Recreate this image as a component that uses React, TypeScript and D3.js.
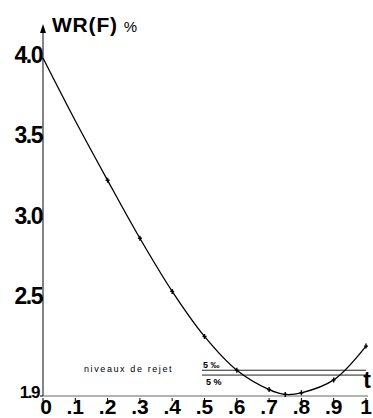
import React, { useEffect, useRef } from 'react';
import * as d3 from 'd3';

// WR(F) % against t
const tValues = [0, 0.1, 0.2, 0.3, 0.4, 0.5, 0.6, 0.7, 0.75, 0.8, 0.9, 1.0];
const wrValues = [4.0, 3.61, 3.24, 2.88, 2.55, 2.27, 2.06, 1.94, 1.91, 1.92, 2.0, 2.21];
const markedT = [0.2, 0.3, 0.4, 0.5, 0.6, 0.7, 0.75, 0.8, 0.9, 1.0];

const yTicks = [4.0, 3.5, 3.0, 2.5, 1.9];
const yTickLabels = ['4.0', '3.5', '3.0', '2.5', '1.9'];
const xTicks = [0, 0.1, 0.2, 0.3, 0.4, 0.5, 0.6, 0.7, 0.8, 0.9, 1];
const xTickLabels = ['0', '.1', '.2', '.3', '.4', '.5', '.6', '.7', '.8', '.9', '1'];

// rejection levels
const rejectLevels = [2.06, 2.03];
const rejectLabels = ['5 ‰', '5 %'];

function App() {
  const ref = useRef<SVGSVGElement | null>(null);

  useEffect(() => {
    if (!ref.current) return;
    const W = 373;
    const H = 418;

    const svg = d3.select(ref.current);
    svg.selectAll('*').remove();
    svg.attr('width', W).attr('height', H);

    const x = d3.scaleLinear().domain([0, 1]).range([43, 366]);
    const y = d3.scaleLinear().domain([1.9, 4.0]).range([396, 58]);

    const font = "'Liberation Sans', Arial, sans-serif";

    // y axis with arrow
    svg.append('line')
      .attr('x1', x(0)).attr('x2', x(0))
      .attr('y1', y(1.9)).attr('y2', 28)
      .attr('stroke', '#333').attr('stroke-width', 1.2);
    svg.append('path')
      .attr('d', `M${x(0) - 3},${33} L${x(0)},${24} L${x(0) + 3},${33} Z`)
      .attr('fill', '#000');

    // x axis
    svg.append('line')
      .attr('x1', x(0)).attr('x2', x(1) + 2)
      .attr('y1', y(1.9)).attr('y2', y(1.9))
      .attr('stroke', '#666').attr('stroke-width', 1);

    // y ticks
    const yg = svg.append('g');
    yTicks.forEach((v, i) => {
      const last = i === yTicks.length - 1;
      yg.append('line')
        .attr('x1', x(0) - 3).attr('x2', x(0))
        .attr('y1', y(v)).attr('y2', y(v))
        .attr('stroke', '#000');
      yg.append('text')
        .attr('x', x(0) - (last ? 4 : 1))
        .attr('y', y(v) + (last ? 2 : 5))
        .attr('text-anchor', 'end')
        .attr('font-family', font)
        .attr('font-weight', 'bold')
        .attr('font-size', last ? 17 : 23)
        .attr('letter-spacing', -1.5)
        .text(yTickLabels[i]);
    });

    // x ticks
    const xg = svg.append('g');
    xTicks.forEach((v, i) => {
      xg.append('line')
        .attr('x1', x(v)).attr('x2', x(v))
        .attr('y1', y(1.9) + 2).attr('y2', y(1.9) + 5)
        .attr('stroke', '#000');
      xg.append('text')
        .attr('x', x(v) + (i === 0 ? 3 : 0))
        .attr('y', 414)
        .attr('text-anchor', 'middle')
        .attr('font-family', font)
        .attr('font-weight', 'bold')
        .attr('font-size', 21)
        .text(xTickLabels[i]);
    });

    // title
    const title = svg.append('text')
      .attr('x', 52).attr('y', 32)
      .attr('font-family', font)
      .attr('font-weight', 'bold')
      .attr('font-size', 21)
      .attr('letter-spacing', 0.8);
    title.append('tspan').text('WR(F)');
    title.append('tspan')
      .attr('dx', 6)
      .attr('font-weight', 'normal')
      .attr('font-size', 15)
      .text('%');

    // axis name t
    svg.append('text')
      .attr('x', 367).attr('y', 388)
      .attr('text-anchor', 'middle')
      .attr('font-family', font)
      .attr('font-weight', 'bold')
      .attr('font-size', 23)
      .text('t');

    // rejection levels
    rejectLevels.forEach((v) => {
      svg.append('line')
        .attr('x1', 202).attr('x2', x(1))
        .attr('y1', y(v)).attr('y2', y(v))
        .attr('stroke', '#222').attr('stroke-width', 1);
    });
    svg.append('text')
      .attr('x', 203).attr('y', y(rejectLevels[0]) - 2)
      .attr('font-family', font).attr('font-weight', 'bold')
      .attr('font-size', 9)
      .text(rejectLabels[0]);
    svg.append('text')
      .attr('x', 206).attr('y', y(rejectLevels[1]) + 10)
      .attr('font-family', font).attr('font-weight', 'bold')
      .attr('font-size', 9)
      .text(rejectLabels[1]);
    svg.append('text')
      .attr('x', 84).attr('y', 372)
      .attr('font-family', font)
      .attr('font-size', 9)
      .attr('letter-spacing', 1.6)
      .text('niveaux de rejet');

    // curve
    const pts = tValues.map((t, i) => [t, wrValues[i]] as [number, number]);
    const line = d3.line<[number, number]>()
      .x((d) => x(d[0]))
      .y((d) => y(d[1]))
      .curve(d3.curveCatmullRom.alpha(0.5));
    svg.append('path')
      .datum(pts)
      .attr('d', line)
      .attr('fill', 'none')
      .attr('stroke', '#000')
      .attr('stroke-width', 1.3);

    // markers
    const marks = pts.filter((d) => markedT.includes(d[0]));
    svg.selectAll('.mark')
      .data(marks)
      .join('path')
      .attr('class', 'mark')
      .attr('d', (d) => {
        const cx = x(d[0]);
        const cy = y(d[1]);
        return `M${cx - 2},${cy} L${cx + 2},${cy} M${cx},${cy - 2.5} L${cx},${cy + 2.5}`;
      })
      .attr('stroke', '#000')
      .attr('stroke-width', 1.4);
  }, []);

  return (
    <svg ref={ref} style={{ position: 'absolute', left: 0, top: 0, background: '#fff' }} />
  );
}

export default App;
